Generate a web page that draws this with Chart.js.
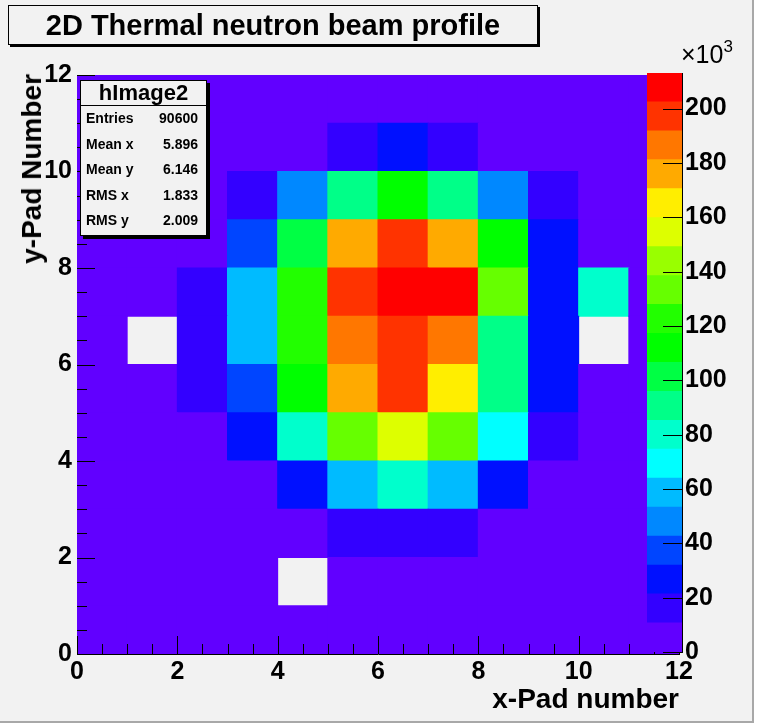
<!DOCTYPE html>
<html>
<head>
<meta charset="utf-8">
<script src="https://cdn.jsdelivr.net/npm/chart.js@4.4.1/dist/chart.umd.min.js"></script>
<style>
  body { margin: 0; background: #fff; font-family: "Liberation Sans", Arial, Helvetica, sans-serif; }
  #pad { position: relative; width: 752px; height: 721px; background: #f2f2f2;
         border-right: 2px solid #a8a8a8; border-bottom: 2px solid #a8a8a8; overflow: hidden; }
  canvas { position: absolute; left: 0; top: 0; }
  .box { position: absolute; background: #f2f2f2; border: 1px solid #000; box-sizing: border-box; }
  #title { left: 8px; top: 5px; width: 530px; height: 40px; box-shadow: 2px 2px 0 #000;
           font-weight: bold; font-size: 29px; line-height: 38px; text-align: center; }
  #stats { left: 80px; top: 80px; width: 127px; height: 156px; box-shadow: 3px 3px 0 #000; z-index: 5;
           font-weight: bold; font-size: 14px; }
  #stats .head { height: 24px; border-bottom: 1px solid #000; font-size: 22px; line-height: 24px; text-align: center; }
  #stats .row { display: flex; justify-content: space-between; padding: 0 8px 0 5px; height: 25.5px; line-height: 25.5px; }
  .axtitle { position: absolute; font-weight: bold; font-size: 28px; white-space: nowrap; }
  #xtitle { right: 73px; top: 683px; }
  #ytitle { left: 16px; top: 74px; transform-origin: 0 0; transform: rotate(-90deg) translate(-100%, 0); }
  #zexp { position: absolute; left: 681px; top: 39px; font-size: 25px; }
  #zexp sup { font-size: 17px; position: relative; top: -2px; }
</style>
</head>
<body>
<div id="pad">
  <canvas id="mapChart" width="752" height="721"></canvas>
  <canvas id="paletteChart" width="752" height="721"></canvas>
  <div id="title" class="box">2D Thermal neutron beam profile</div>
  <div id="stats" class="box">
    <div class="head">hImage2</div>
    <div class="row"><span>Entries</span><span>90600</span></div>
    <div class="row"><span>Mean x</span><span>5.896</span></div>
    <div class="row"><span>Mean y</span><span>6.146</span></div>
    <div class="row"><span>RMS x</span><span>1.833</span></div>
    <div class="row"><span>RMS y</span><span>2.009</span></div>
  </div>
  <div id="xtitle" class="axtitle">x-Pad number</div>
  <div id="ytitle" class="axtitle">y-Pad Number</div>
  <div id="zexp">&times;10<sup>3</sup></div>
</div>
<script>
// pad bin centres
const xPads = [0.5, 1.5, 2.5, 3.5, 4.5, 5.5, 6.5, 7.5, 8.5, 9.5, 10.5, 11.5];
const yPads = [0.5, 1.5, 2.5, 3.5, 4.5, 5.5, 6.5, 7.5, 8.5, 9.5, 10.5, 11.5];

// counts per pad in units of 10^3, rows listed from y = 0 (bottom) to y = 11 (top)
const row0  = [2, 3, 4, 5, 6, 6, 7, 6, 5, 4, 3, 2];
const row1  = [3, 4, 5, 6, 0, 8, 9, 8, 7, 5, 4, 3];
const row2  = [3, 4, 6, 8, 9, 17, 19, 16, 9, 7, 5, 3];
const row3  = [4, 5, 7, 9, 27, 58, 80, 57, 26, 9, 6, 4];
const row4  = [4, 6, 9, 24, 79, 134, 155, 133, 70, 15, 7, 4];
const row5  = [5, 8, 15, 36, 110, 176, 195, 162, 90, 26, 8, 5];
const row6  = [5, 0, 16, 60, 122, 184, 198, 186, 89, 28, 0, 6];
const row7  = [6, 9, 17, 58, 120, 199, 213, 209, 131, 27, 80, 7];
const row8  = [5, 7, 9, 35, 100, 172, 196, 174, 112, 25, 8, 6];
const row9  = [5, 6, 8, 14, 46, 88, 110, 89, 47, 15, 7, 5];
const row10 = [4, 5, 6, 8, 9, 18, 25, 17, 9, 6, 5, 4];
const row11 = [4, 5, 5, 6, 7, 8, 8, 7, 6, 5, 4, 3];
const rows = [row0, row1, row2, row3, row4, row5, row6, row7, row8, row9, row10, row11];

const xTicks = [0, 2, 4, 6, 8, 10, 12];
const yTicks = [0, 2, 4, 6, 8, 10, 12];
const zTicks = [0, 20, 40, 60, 80, 100, 120, 140, 160, 180, 200];
const zMax = 213.1;

// ROOT style palette, 20 contour levels
const palette = ['#6100ff', '#3300ff', '#0010ff', '#0045ff', '#0088ff', '#00bbff', '#00ffff',
                 '#00ffcc', '#00ff88', '#00ff44', '#00ff00', '#22ff00', '#66ff00', '#99ff00',
                 '#ddff00', '#ffee00', '#ffaa00', '#ff7700', '#ff3300', '#ff0000'];

const FONT = '"Liberation Sans", Arial, Helvetica, sans-serif';

function colorFor(v) {
    if (!v || v <= 0) return 'rgba(0,0,0,0)';
    let k = Math.floor(v / (zMax / palette.length));
    if (k >= palette.length) k = palette.length - 1;
    return palette[k];
}

function innerTicks(minor, major, minorLen, majorLen) {
    return {
        id: 'innerTicks',
        afterDraw(chart) {
            const ctx = chart.ctx;
            const area = chart.chartArea;
            const xs = chart.scales.x, ys = chart.scales.y;
            ctx.save();
            ctx.strokeStyle = '#000';
            ctx.lineWidth = 1;
            ctx.beginPath();
            for (let v = xs.min; v <= xs.max + 1e-9; v += minor) {
                const len = Math.abs(v / major - Math.round(v / major)) < 1e-6 ? majorLen : minorLen;
                const px = Math.round(xs.getPixelForValue(v)) + 0.5;
                ctx.moveTo(px, area.bottom);
                ctx.lineTo(px, area.bottom - len);
                const py = Math.round(ys.getPixelForValue(v)) + 0.5;
                ctx.moveTo(area.left, py);
                ctx.lineTo(area.left + len, py);
            }
            ctx.stroke();
            ctx.restore();
        }
    };
}

function mapChart() {
    const datasets = rows.map((vals, j) => ({
        label: 'y' + j,
        data: xPads.map(x => ({x: x, y: [yPads[j] - 0.5, yPads[j] + 0.5]})),
        backgroundColor: vals.map(colorFor),
        borderWidth: 0,
        inflateAmount: 0.5,
        grouped: false,
        barPercentage: 1,
        categoryPercentage: 1
    }));

    const tickFont = {family: FONT, size: 25, weight: 'bold', lineHeight: 1};
    new Chart(document.getElementById('mapChart').getContext('2d'), {
        type: 'bar',
        data: {datasets: datasets},
        options: {
            responsive: false,
            animation: false,
            layout: {autoPadding: false, padding: {left: 0, top: 75, right: 73, bottom: 0}},
            plugins: {legend: {display: false}, tooltip: {enabled: false}},
            scales: {
                x: {
                    type: 'linear', min: 0, max: 12, offset: false,
                    afterBuildTicks: s => { s.ticks = xTicks.map(v => ({value: v})); },
                    afterFit: s => { s.height = 721 - 654; },
                    grid: {drawOnChartArea: false, drawTicks: false},
                    border: {display: true, color: '#000', width: 1},
                    ticks: {color: '#000', font: tickFont, padding: 6, maxRotation: 0, autoSkip: false}
                },
                y: {
                    type: 'linear', min: 0, max: 12,
                    afterBuildTicks: s => { s.ticks = yTicks.map(v => ({value: v})); },
                    afterFit: s => { s.width = 77; },
                    grid: {drawOnChartArea: false, drawTicks: false},
                    border: {display: true, color: '#000', width: 1},
                    ticks: {color: '#000', font: tickFont, padding: 5, autoSkip: false}
                }
            }
        },
        plugins: [innerTicks(0.5, 2, 10, 18)]
    });
}

function paletteChart() {
    const step = zMax / palette.length;
    const datasets = palette.map((c, k) => ({
        label: 'level' + k,
        data: [[k * step, (k + 1) * step]],
        backgroundColor: c,
        borderWidth: 0,
        inflateAmount: 0.5,
        grouped: false,
        barPercentage: 1,
        categoryPercentage: 1
    }));

    const zTickMarks = {
        id: 'zTickMarks',
        afterDraw(chart) {
            const ctx = chart.ctx;
            const area = chart.chartArea;
            const ys = chart.scales.y;
            ctx.save();
            ctx.strokeStyle = '#000';
            ctx.lineWidth = 1;
            ctx.beginPath();
            zTicks.forEach(v => {
                const py = Math.round(ys.getPixelForValue(v)) + 0.5;
                ctx.moveTo(area.right, py);
                ctx.lineTo(area.right - 19, py);
            });
            ctx.stroke();
            ctx.restore();
        }
    };

    new Chart(document.getElementById('paletteChart').getContext('2d'), {
        type: 'bar',
        data: {labels: ['z'], datasets: datasets},
        options: {
            responsive: false,
            animation: false,
            layout: {autoPadding: false, padding: {left: 647, top: 73, right: 0, bottom: 721 - 652}},
            plugins: {legend: {display: false}, tooltip: {enabled: false}},
            scales: {
                x: {display: false},
                y: {
                    position: 'right', min: 0, max: zMax,
                    afterBuildTicks: s => { s.ticks = zTicks.map(v => ({value: v})); },
                    afterFit: s => { s.width = 752 - 682; },
                    grid: {drawOnChartArea: false, drawTicks: false},
                    border: {display: true, color: '#000', width: 1},
                    ticks: {color: '#000', font: {family: FONT, size: 25, weight: 'bold', lineHeight: 1}, padding: 3, autoSkip: false}
                }
            }
        },
        plugins: [zTickMarks]
    });
}

mapChart();
paletteChart();
</script>
</body>
</html>
